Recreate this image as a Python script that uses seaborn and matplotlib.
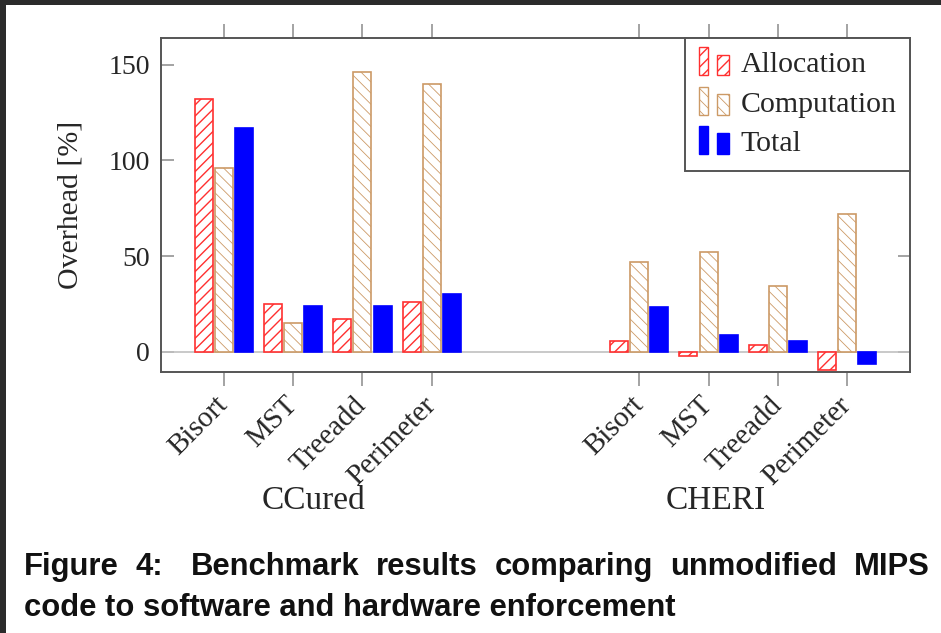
import matplotlib
matplotlib.use("Agg")
import matplotlib.pyplot as plt
import seaborn as sns
import pandas as pd
from matplotlib.patches import Rectangle
from matplotlib.legend_handler import HandlerBase

# ---- data ----
benchmarks = ["Bisort", "MST", "Treeadd", "Perimeter"]
groups = ["CCured", "CHERI"]
ccured_alloc = [132, 25, 17, 26]
ccured_comp = [96, 15, 146, 140]
ccured_total = [117, 24, 24, 30]
cheri_alloc = [5.5, -2, 3.5, -9.5]
cheri_comp = [47, 52, 34.5, 72]
cheri_total = [23.5, 9, 5.5, -6.5]
metrics = ["Allocation", "Computation", "Total"]
yticks = [0, 50, 100, 150]
caption_1 = "Figure 4:  Benchmark results comparing unmodified MIPS"
caption_2 = "code to software and hardware enforcement"

positions = [0, 1, 2, 3, 6, 7, 8, 9]

rows = []
series = {
    "CCured": [ccured_alloc, ccured_comp, ccured_total],
    "CHERI": [cheri_alloc, cheri_comp, cheri_total],
}
for gi, g in enumerate(groups):
    for m, vals in zip(metrics, series[g]):
        for bi, b in enumerate(benchmarks):
            rows.append({"pos": positions[gi * 4 + bi], "metric": m, "value": vals[bi]})
df = pd.DataFrame(rows)

sns.set_theme(style="white")
plt.rcParams["font.family"] = ["Liberation Serif", "DejaVu Serif"]
plt.rcParams["hatch.linewidth"] = 1.0

RED = "#FF3030"
TAN = "#CC9A66"
BLUE = "#0000FF"
colors = {"Allocation": RED, "Computation": TAN, "Total": BLUE}

fig = plt.figure(figsize=(9.41, 6.33), dpi=100)
fig.patch.set_facecolor("white")
ax = fig.add_axes([161 / 941, 1 - 372 / 633, (910 - 161) / 941, (372 - 38) / 633])

sns.barplot(data=df, x="pos", y="value", hue="metric", hue_order=metrics,
            native_scale=True, width=0.87, dodge=True, palette=colors,
            errorbar=None, legend=False, ax=ax, zorder=2)

styles = {
    "Allocation": dict(face="white", edge=RED, hatch="///", hlw=1.0),
    "Computation": dict(face="white", edge=TAN, hatch="\\\\\\", hlw=0.6),
    "Total": dict(face=BLUE, edge=BLUE, hatch=None, hlw=1.0),
}


def style_patch(p, st):
    p.set_facecolor(st["face"])
    p.set_edgecolor(st["edge"])
    if st["hatch"]:
        p.set_hatch(st["hatch"])
        if hasattr(p, "set_hatchcolor"):
            p.set_hatchcolor(st["edge"])
        if hasattr(p, "set_hatch_linewidth"):
            p.set_hatch_linewidth(st["hlw"])


for cont, m in zip(ax.containers, metrics):
    st = styles[m]
    for p in cont:
        p.set_x(p.get_x() + 0.015)
        p.set_width(p.get_width() - 0.03)
        style_patch(p, st)
        p.set_linewidth(1.2)

ax.axhline(0, color="#c0c0c0", lw=1.2, zorder=1)

ax.set_xlim(-0.91, 9.91)
ax.set_ylim(-10.5, 164)
ax.set_yticks(yticks)
ax.set_yticklabels([str(v) for v in yticks], fontsize=20)
ax.set_xticks(positions)
ax.set_xticklabels(benchmarks * 2, fontsize=21, rotation=45,
                   ha="right", va="center", rotation_mode="anchor")
ax.set_xlabel("")
ax.set_ylabel("Overhead [%]", fontsize=21.5, labelpad=18)

ax.tick_params(axis="x", direction="out", length=10, width=1.1, color="#8a8a8a",
               top=True, bottom=True, labeltop=False, pad=11)
ax.tick_params(axis="y", direction="in", length=9, width=1.1, color="#8a8a8a",
               left=True, right=True, pad=8)
for s in ax.spines.values():
    s.set_color("#555555")
    s.set_linewidth(1.4)

# group labels
ax.text(1.29, -0.385, "CCured", transform=ax.get_xaxis_transform(),
        ha="center", va="center", fontsize=24)
ax.text(7.11, -0.385, "CHERI", transform=ax.get_xaxis_transform(),
        ha="center", va="center", fontsize=24)


# legend with two-bar icons
class TwoBar(HandlerBase):
    def create_artists(self, legend, orig, xd, yd, width, height, fontsize, trans):
        out = []
        for x0, w, h in [(0.0, 0.28, 1.35), (0.56, 0.36, 1.0)]:
            rct = Rectangle((-xd + x0 * width, -yd - 0.15 * height), w * width, h * height,
                            linewidth=1.0, transform=trans)
            style_patch(rct, orig._st)
            out.append(rct)
        return out


handles = []
for m in metrics:
    h = Rectangle((0, 0), 1, 1)
    h._st = styles[m]
    handles.append(h)
leg = ax.legend(handles, metrics, loc="upper right", borderaxespad=0, fontsize=21.5,
                handler_map={Rectangle: TwoBar()}, handlelength=1.1, handleheight=0.7,
                handletextpad=0.3, labelspacing=0.42, borderpad=0.45,
                fancybox=False, framealpha=1, edgecolor="#555555")
leg.get_frame().set_linewidth(1.4)

# dark screenshot frame
fig.add_artist(Rectangle((0, 1 - 5 / 633), 1, 5 / 633, transform=fig.transFigure,
                         facecolor="#2b2b2b", edgecolor="none", zorder=10))
fig.add_artist(Rectangle((0, 0), 6 / 941, 1, transform=fig.transFigure,
                         facecolor="#2b2b2b", edgecolor="none", zorder=10))

# caption (justified first line)
cap_kw = dict(fontsize=22.3, fontweight="bold", family=["Liberation Sans", "DejaVu Sans"],
              va="baseline", ha="left", color="#111111")
fig.canvas.draw()
r = fig.canvas.get_renderer()
words = caption_1.split()
texts = [fig.text(0, 1 - 575 / 633, w, **cap_kw) for w in words]
widths = [t.get_window_extent(renderer=r).width for t in texts]
left, right = 24, 930
weights = [1.0] * (len(words) - 1)
weights[1] = 1.6
gap = (right - left - sum(widths)) / sum(weights)
x = left
for i, t in enumerate(texts):
    t.set_x(x / 941)
    x += widths[i] + (gap * weights[i] if i < len(weights) else 0)
fig.text(24 / 941, 1 - 616 / 633, caption_2, **cap_kw)

fig.savefig("out.png", dpi=100)
